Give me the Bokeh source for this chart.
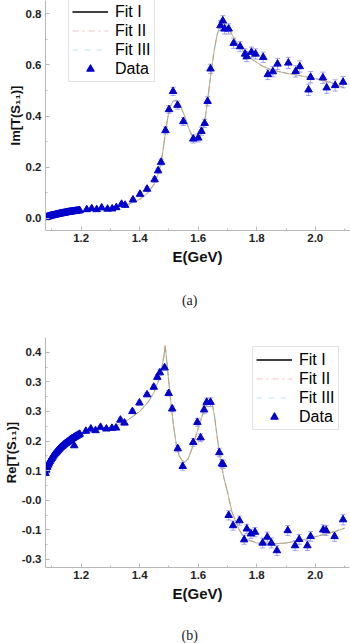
from bokeh.plotting import figure
from bokeh.models import (Range1d, FixedTicker, Legend, LegendItem, Whisker,
                          ColumnDataSource, TeeHead, PrintfTickFormatter)
from bokeh.core.properties import value
from bokeh.layouts import column
from bokeh.embed import file_html
from bokeh.resources import INLINE

# ---------------- data: Im[T(S11)] ----------------
im_E = [1.078, 1.081, 1.084, 1.087, 1.090, 1.093, 1.096, 1.099, 1.102, 1.105,
        1.108, 1.111, 1.114, 1.117, 1.120, 1.123, 1.126, 1.129, 1.132, 1.135,
        1.138, 1.141, 1.144, 1.147, 1.150, 1.153, 1.156, 1.159, 1.162, 1.165,
        1.168, 1.171, 1.174, 1.177, 1.180, 1.183, 1.186, 1.189, 1.192, 1.195,
        1.219, 1.236, 1.253, 1.27, 1.29, 1.306, 1.32, 1.338, 1.35, 1.377,
        1.401, 1.425, 1.451, 1.463, 1.473, 1.488, 1.50, 1.514, 1.529, 1.549,
        1.583, 1.60, 1.611, 1.622, 1.632, 1.642, 1.676, 1.684, 1.69, 1.704,
        1.721, 1.743, 1.76, 1.766, 1.782, 1.796, 1.822, 1.838, 1.855, 1.871,
        1.908, 1.933, 1.947, 1.977, 1.984, 2.026, 2.039, 2.068, 2.095]
im_V = [0.004, 0.005, 0.006, 0.007, 0.008, 0.009, 0.010, 0.011, 0.012, 0.012,
        0.013, 0.014, 0.015, 0.016, 0.016, 0.017, 0.018, 0.019, 0.019, 0.020,
        0.021, 0.021, 0.022, 0.023, 0.023, 0.024, 0.025, 0.025, 0.026, 0.026,
        0.027, 0.027, 0.028, 0.028, 0.029, 0.029, 0.030, 0.030, 0.031, 0.031,
        0.035, 0.039, 0.035, 0.042, 0.037, 0.038, 0.043, 0.056, 0.052, 0.073,
        0.095, 0.115, 0.152, 0.187, 0.22, 0.344, 0.426, 0.497, 0.443, 0.379,
        0.311, 0.315, 0.341, 0.372, 0.458, 0.585, 0.754, 0.773, 0.741, 0.741,
        0.685, 0.672, 0.643, 0.633, 0.65, 0.643, 0.630, 0.563, 0.574, 0.604,
        0.608, 0.575, 0.594, 0.503, 0.552, 0.55, 0.511, 0.52, 0.533]
im_err = [0.002, 0.002, 0.002, 0.002, 0.002, 0.002, 0.002, 0.002, 0.002, 0.002,
          0.002, 0.002, 0.002, 0.002, 0.002, 0.002, 0.002, 0.002, 0.002, 0.002,
          0.002, 0.002, 0.002, 0.002, 0.002, 0.002, 0.002, 0.002, 0.002, 0.002,
          0.002, 0.002, 0.002, 0.002, 0.002, 0.002, 0.002, 0.002, 0.002, 0.002,
          0.004, 0.004, 0.004, 0.004, 0.004, 0.004, 0.005, 0.006, 0.006, 0.007,
          0.008, 0.009, 0.010, 0.010, 0.012, 0.014, 0.015, 0.016, 0.016, 0.016,
          0.016, 0.016, 0.016, 0.016, 0.018, 0.018, 0.020, 0.020, 0.020, 0.020,
          0.020, 0.020, 0.020, 0.020, 0.020, 0.020, 0.020, 0.020, 0.020, 0.022,
          0.022, 0.022, 0.022, 0.022, 0.022, 0.022, 0.022, 0.022, 0.022]
im_fit_E = [1.078, 1.10, 1.15, 1.20, 1.25, 1.30, 1.35, 1.375, 1.40, 1.425,
            1.45, 1.465, 1.475, 1.485, 1.495, 1.505, 1.515, 1.525, 1.535, 1.55,
            1.57, 1.585, 1.595, 1.605, 1.615, 1.625, 1.635, 1.645, 1.655, 1.665,
            1.675, 1.685, 1.695, 1.71, 1.73, 1.75, 1.78, 1.82, 1.86, 1.90,
            1.95, 2.00, 2.05, 2.10]
im_fit = [0.003, 0.008, 0.018, 0.027, 0.034, 0.040, 0.050, 0.062, 0.075, 0.097,
          0.135, 0.18, 0.23, 0.31, 0.39, 0.44, 0.46, 0.462, 0.45, 0.41,
          0.345, 0.31, 0.305, 0.315, 0.345, 0.40, 0.49, 0.58, 0.66, 0.72,
          0.755, 0.765, 0.755, 0.73, 0.69, 0.66, 0.625, 0.595, 0.578, 0.568,
          0.558, 0.547, 0.533, 0.51]

# ---------------- data: Re[T(S11)] ----------------
re_E = [1.078, 1.081, 1.084, 1.087, 1.090, 1.093, 1.096, 1.099, 1.102, 1.105,
        1.108, 1.111, 1.114, 1.117, 1.120, 1.123, 1.126, 1.129, 1.132, 1.135,
        1.138, 1.141, 1.144, 1.147, 1.150, 1.153, 1.156, 1.159, 1.162, 1.165,
        1.168, 1.171, 1.174, 1.177, 1.180, 1.183, 1.186, 1.189, 1.192, 1.195,
        1.176,
        1.216, 1.233, 1.249, 1.266, 1.286, 1.305, 1.319, 1.334, 1.348, 1.375,
        1.399, 1.425, 1.448, 1.46, 1.469, 1.485, 1.499, 1.511, 1.53, 1.547,
        1.583, 1.597, 1.608, 1.62, 1.629, 1.642, 1.672, 1.681, 1.685, 1.704,
        1.719, 1.741, 1.757, 1.766, 1.78, 1.794, 1.82, 1.836, 1.85, 1.869,
        1.906, 1.931, 1.945, 1.973, 1.984, 2.027, 2.037, 2.066, 2.095]
re_V = [0.062, 0.072, 0.080, 0.087, 0.093, 0.098, 0.103, 0.107, 0.111, 0.115,
        0.119, 0.122, 0.125, 0.128, 0.131, 0.134, 0.137, 0.140, 0.142, 0.144,
        0.147, 0.149, 0.151, 0.153, 0.155, 0.157, 0.159, 0.161, 0.163, 0.165,
        0.167, 0.168, 0.170, 0.172, 0.173, 0.175, 0.176, 0.178, 0.179, 0.181,
        0.146,
        0.19, 0.197, 0.192, 0.202, 0.197, 0.199, 0.2, 0.224, 0.215, 0.25,
        0.276, 0.301, 0.324, 0.354, 0.368, 0.383, 0.305, 0.258, 0.137, 0.083,
        0.156, 0.217, 0.17, 0.255, 0.278, 0.278, 0.125, 0.091, 0.089, -0.066,
        -0.097, -0.082, -0.14, -0.107, -0.122, -0.117, -0.15, -0.132, -0.15, -0.173,
        -0.112, -0.158, -0.139, -0.158, -0.13, -0.11, -0.112, -0.13, -0.079]
re_err = [0.002, 0.002, 0.002, 0.002, 0.002, 0.002, 0.002, 0.002, 0.002, 0.002,
          0.002, 0.002, 0.002, 0.002, 0.002, 0.002, 0.002, 0.002, 0.002, 0.002,
          0.002, 0.002, 0.002, 0.002, 0.002, 0.002, 0.002, 0.002, 0.002, 0.002,
          0.002, 0.002, 0.002, 0.002, 0.002, 0.002, 0.002, 0.002, 0.002, 0.002,
          0.004,
          0.004, 0.004, 0.004, 0.004, 0.004, 0.004, 0.004, 0.006, 0.006, 0.006,
          0.006, 0.006, 0.007, 0.008, 0.008, 0.008, 0.008, 0.009, 0.010, 0.012,
          0.012, 0.012, 0.012, 0.012, 0.013, 0.013, 0.013, 0.013, 0.013, 0.014,
          0.014, 0.014, 0.014, 0.014, 0.014, 0.014, 0.015, 0.015, 0.015, 0.015,
          0.015, 0.015, 0.015, 0.015, 0.015, 0.015, 0.015, 0.015, 0.016]
re_fit_E = [1.077, 1.09, 1.10, 1.12, 1.15, 1.20, 1.25, 1.30, 1.35, 1.40,
            1.43, 1.45, 1.465, 1.475, 1.483, 1.487, 1.495, 1.505, 1.515, 1.525,
            1.535, 1.545, 1.555, 1.565, 1.58, 1.60, 1.62, 1.635, 1.645, 1.655,
            1.665, 1.675, 1.687, 1.70, 1.715, 1.74, 1.76, 1.80, 1.85, 1.90,
            1.95, 2.00, 2.05, 2.10]
re_fit = [0.06, 0.095, 0.108, 0.13, 0.155, 0.18, 0.193, 0.202, 0.218, 0.25,
          0.28, 0.31, 0.345, 0.38, 0.42, 0.45, 0.38, 0.29, 0.21, 0.15,
          0.115, 0.10, 0.097, 0.105, 0.14, 0.20, 0.255, 0.28, 0.285, 0.24,
          0.17, 0.11, 0.05, 0.005, -0.055, -0.11, -0.137, -0.15, -0.153, -0.15,
          -0.142, -0.131, -0.12, -0.105]

x_ticks = [1.2, 1.4, 1.6, 1.8, 2.0]
x_minor = [1.1, 1.3, 1.5, 1.7, 1.9, 2.1]
im_ticks = [0.0, 0.2, 0.4, 0.6, 0.8]
im_minor = [0.1, 0.3, 0.5, 0.7]
re_ticks = [0.43, 0.34, 0.25, 0.16, 0.07, -0.02, -0.11, -0.2]
re_tick_labels = ["0.4", "0.3", "0.3", "0.2", "0.1", "-0.0", "-0.1", "-0.3"]
re_minor = [0.385, 0.295, 0.205, 0.115, 0.025, -0.065, -0.155]

legend_labels = ["Fit I", "Fit II", "Fit III", "Data"]
captions = ["(a)", "(b)"]

FONT = "Liberation Sans"
AX_COL = "#b8b8b8"
MARK = "#0000cc"
ERRC = "#8c8cf0"


def make_panel(E, V, err, fE, fV, yr, yticks, yminor, ylabel,
               height, top_border, bottom_border, legend_loc, overrides=None):
    p = figure(width=350, height=height, output_backend="svg", toolbar_location=None,
               x_range=Range1d(1.078, 2.117), y_range=Range1d(*yr),
               min_border_left=40, min_border_right=1, min_border_top=top_border,
               min_border_bottom=bottom_border)
    p.outline_line_color = None
    p.grid.visible = False
    p.background_fill_color = "white"
    # off-screen range used only by the legend sample renderers
    p.extra_x_ranges = {"legend_only": Range1d(100, 101)}

    src = ColumnDataSource(dict(x=E, y=V,
                                up=[v + e for v, e in zip(V, err)],
                                lo=[v - e for v, e in zip(V, err)]))
    fsrc = ColumnDataSource(dict(x=fE, y=fV))

    # fit curves (three nearly coincident fits)
    p.line("x", "y", source=fsrc, line_color="#a8e4ec", line_width=1.2, line_dash="dashed")
    p.line("x", "y", source=fsrc, line_color="#f0c090", line_width=1.2, line_dash="dashdot")
    p.line("x", "y", source=fsrc, line_color="#9a8e74", line_width=0.9, line_alpha=0.75)

    wh = Whisker(source=src, base="x", upper="up", lower="lo",
                 line_color=ERRC, line_width=0.8,
                 upper_head=TeeHead(size=5, line_color=ERRC, line_width=0.8),
                 lower_head=TeeHead(size=5, line_color=ERRC, line_width=0.8))
    p.add_layout(wh)
    data_r = p.scatter("x", "y", source=src, marker="triangle", size=7.5,
                       fill_color=MARK, line_color=MARK)

    # legend sample renderers (drawn outside the visible range)
    l1 = p.line("x", "y", source=fsrc, line_color="black", line_width=1.6,
                x_range_name="legend_only")
    l2 = p.line("x", "y", source=fsrc, line_color="#f2c4c4", line_width=1.2,
                line_dash="dashdot", x_range_name="legend_only")
    l3 = p.line("x", "y", source=fsrc, line_color="#c4e6f0", line_width=1.2,
                line_dash="dashed", x_range_name="legend_only")
    items = [LegendItem(label=legend_labels[0], renderers=[l1]),
             LegendItem(label=legend_labels[1], renderers=[l2]),
             LegendItem(label=legend_labels[2], renderers=[l3]),
             LegendItem(label=legend_labels[3], renderers=[data_r])]
    leg = Legend(items=items, location=legend_loc,
                 label_text_font=FONT, label_text_font_size="16px",
                 label_text_color="#000000",
                 label_height=19, glyph_height=19, glyph_width=36,
                 label_standoff=7, padding=3, spacing=0, margin=0,
                 border_line_color="#c8c8c8", border_line_width=1,
                 background_fill_alpha=1.0)
    p.add_layout(leg, "center")

    # axes
    p.xaxis.ticker = FixedTicker(ticks=x_ticks, minor_ticks=x_minor)
    p.xaxis.formatter = PrintfTickFormatter(format="%.1f")
    p.yaxis.ticker = FixedTicker(ticks=yticks, minor_ticks=yminor)
    if overrides is None:
        p.yaxis.formatter = PrintfTickFormatter(format="%.1f")
    else:
        p.yaxis.major_label_overrides = overrides
    for ax in (p.xaxis[0], p.yaxis[0]):
        ax.axis_line_color = AX_COL
        ax.major_tick_line_color = AX_COL
        ax.minor_tick_line_color = AX_COL
        ax.major_tick_in = 4
        ax.major_tick_out = 0
        ax.minor_tick_in = 2
        ax.minor_tick_out = 0
        ax.major_label_text_font = FONT
        ax.major_label_text_font_style = "bold"
        ax.major_label_text_font_size = "11.5px"
        ax.major_label_text_color = "#222222"
        ax.major_label_standoff = 4
        ax.axis_label_text_font = FONT
        ax.axis_label_text_font_style = "bold"
        ax.axis_label_text_color = "#111111"
    p.xaxis.major_label_standoff = 3
    p.xaxis.axis_label = "E(GeV)"
    p.xaxis.axis_label_text_font_size = "15px"
    p.xaxis.axis_label_standoff = 3
    p.yaxis.axis_label = ylabel
    p.yaxis.axis_label_text_font_size = "13px"
    p.yaxis.axis_label_standoff = 0
    return p


def make_caption(text, height, ypos):
    c = figure(width=350, height=height, output_backend="svg", toolbar_location=None,
               x_range=Range1d(0, 350), y_range=Range1d(0, height),
               x_axis_location=None, y_axis_location=None, min_border=0)
    c.grid.visible = False
    c.outline_line_color = None
    c.text(x=[166], y=[ypos], text=[text], text_align="center",
           text_baseline="middle", text_font=value("Liberation Serif"),
           text_font_size="14px", text_color="#222222")
    return c


p1 = make_panel(im_E, im_V, im_err, im_fit_E, im_fit, (-0.047, 0.852),
                im_ticks, im_minor, "Im[T(S\u2081\u2081)]",
                280, 0, 50, (23, 148))
c1 = make_caption(captions[0], 40, 20)
re_over = {t: s for t, s in zip(re_ticks, re_tick_labels)}
p2 = make_panel(re_E, re_V, re_err, re_fit_E, re_fit, (-0.2245, 0.4747),
                re_ticks, re_minor, "Re[T(S\u2081\u2081)]",
                297, 17, 50, (207, 137), overrides=re_over)
c2 = make_caption(captions[1], 26, 8)

layout = column(p1, c1, p2, c2, spacing=0)
open("out.html", "w").write(file_html(layout, INLINE))
